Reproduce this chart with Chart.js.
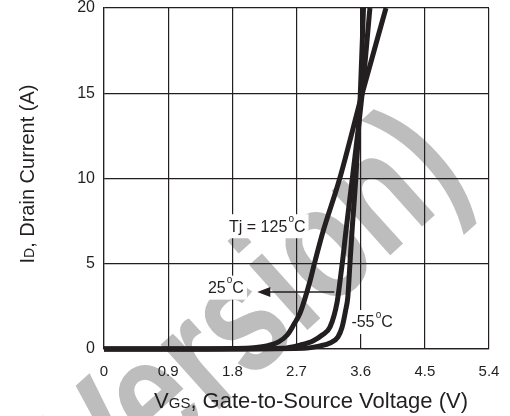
<!DOCTYPE html>
<html>
<head>
<meta charset="utf-8">
<script src="https://cdn.jsdelivr.net/npm/chart.js@4.4.1/dist/chart.umd.min.js"></script>
<style>
  html, body { margin: 0; padding: 0; background: #fff; }
  #wrap { width: 510px; height: 416px; }
</style>
</head>
<body>
<div id="wrap"><canvas id="grafico"></canvas></div>
<script>
  // eixos
  const xTicks = [0, 0.9, 1.8, 2.7, 3.6, 4.5, 5.4];
  const xTickLabels = ['0', '0.9', '1.8', '2.7', '3.6', '4.5', '5.4'];
  const yTicks = [0, 5, 10, 15, 20];
  const yTickLabels = ['0', '5', '10', '15', '20'];

  // curvas Id x Vgs
  const vgs125 = [0, 1.0, 1.8, 2.1, 2.3, 2.45, 2.57, 2.66, 2.75, 2.89, 2.95, 3.07, 3.30, 3.62, 3.955];
  const id125  = [0, 0, 0.03, 0.08, 0.2, 0.42, 0.82, 1.42, 2.11, 3.99, 4.99, 6.86, 9.91, 14.96, 20];

  const vgs25 = [0, 1.5, 2.5, 2.75, 2.93, 3.06, 3.17, 3.27, 3.32, 3.35, 3.39, 3.48, 3.62, 3.73];
  const id25  = [0, 0, 0.04, 0.23, 0.47, 0.82, 1.29, 2.76, 4.3, 5.3, 6.8, 9.9, 14.96, 20];

  const vgs55 = [0, 1.5, 2.8, 3.03, 3.17, 3.28, 3.34, 3.39, 3.42, 3.45, 3.48, 3.53, 3.595, 3.64];
  const id55  = [0, 0, 0.04, 0.18, 0.35, 0.70, 1.29, 2.29, 3.05, 5.04, 6.98, 9.91, 14.96, 20];

  // anotacoes (posicao em V, A)
  const rotulos = [
    { partes: ['Tj = 125', 'o', 'C'], v: 2.29, a: 7.2 },
    { partes: ['25', 'o', 'C'], v: 1.71, a: 3.6 },
    { partes: ['-55', 'o', 'C'], v: 3.76, a: 1.58 }
  ];
  const seta = { vIni: 3.23, vFim: 2.15, a: 3.34 };

  const preto = '#231f20';
  const fonte = '"Liberation Sans", Arial, sans-serif';

  function pontos(xs, ys) {
    return xs.map((x, i) => ({ x: x, y: ys[i] }));
  }

  function serie(label, xs, ys) {
    return {
      label: label,
      data: pontos(xs, ys),
      borderColor: preto,
      borderWidth: 5,
      pointRadius: 0,
      cubicInterpolationMode: 'monotone',
      clip: { left: 4, top: 0, right: 0, bottom: 4 }
    };
  }

  // texto com partes de tamanhos diferentes (subscrito / grau)
  function medir(ctx, partes) {
    let w = 0;
    partes.forEach(p => {
      ctx.font = p.size + 'px ' + fonte;
      w += ctx.measureText(p.t).width;
    });
    return w;
  }

  function escrever(ctx, partes, x, y) {
    let cx = x;
    partes.forEach(p => {
      ctx.font = p.size + 'px ' + fonte;
      ctx.fillText(p.t, cx, y + (p.dy || 0));
      cx += ctx.measureText(p.t).width;
    });
  }

  const plugin = {
    id: 'extras',
    beforeDraw(chart) {
      const ctx = chart.ctx;
      const area = chart.chartArea;
      ctx.save();
      ctx.fillStyle = '#fff';
      ctx.fillRect(0, 0, chart.width, chart.height);
      // marca d'agua
      ctx.translate(area.left + area.width * 0.955, area.top + area.height * 0.51);
      ctx.rotate(-42 * Math.PI / 180);
      ctx.scale(0.76, 1);
      ctx.font = 'bold 165px ' + fonte;
      ctx.fillStyle = '#bdbdbd';
      ctx.textAlign = 'right';
      ctx.textBaseline = 'alphabetic';
      ctx.fillText('Version)', 0, 0);
      ctx.restore();
    },
    afterDatasetsDraw(chart) {
      const ctx = chart.ctx;
      const xs = chart.scales.x;
      const ys = chart.scales.y;
      ctx.save();
      ctx.textBaseline = 'middle';

      rotulos.forEach(r => {
        const partes = [
          { t: r.partes[0], size: 16 },
          { t: ' ', size: 4 },
          { t: r.partes[1], size: 10, dy: -8 },
          { t: r.partes[2], size: 16 }
        ];
        const w = medir(ctx, partes);
        const cx = xs.getPixelForValue(r.v);
        const cy = ys.getPixelForValue(r.a);
        ctx.fillStyle = '#fff';
        ctx.fillRect(cx - w / 2 - 3, cy - 12, w + 6, 24);
        ctx.fillStyle = preto;
        escrever(ctx, partes, cx - w / 2, cy + 1);
      });

      // seta do 25C
      const x1 = xs.getPixelForValue(seta.vIni);
      const x2 = xs.getPixelForValue(seta.vFim);
      const y = ys.getPixelForValue(seta.a);
      ctx.strokeStyle = preto;
      ctx.lineWidth = 1.5;
      ctx.beginPath();
      ctx.moveTo(x1, y);
      ctx.lineTo(x2 + 10, y);
      ctx.stroke();
      ctx.fillStyle = preto;
      ctx.beginPath();
      ctx.moveTo(x2, y);
      ctx.lineTo(x2 + 13, y - 5);
      ctx.lineTo(x2 + 13, y + 5);
      ctx.closePath();
      ctx.fill();
      ctx.restore();
    },
    afterDraw(chart) {
      const ctx = chart.ctx;
      const area = chart.chartArea;
      ctx.save();
      ctx.fillStyle = preto;
      ctx.textBaseline = 'alphabetic';

      // titulo eixo x
      const px = [
        { t: 'V', size: 22 },
        { t: 'GS', size: 15 },
        { t: ', Gate-to-Source Voltage (V)', size: 22 }
      ];
      const wx = medir(ctx, px);
      escrever(ctx, px, 311 - wx / 2, 408);

      // titulo eixo y
      const py = [
        { t: 'I', size: 20 },
        { t: 'D', size: 14 },
        { t: ', Drain Current (A)', size: 20 }
      ];
      const wy = medir(ctx, py);
      ctx.translate(34, area.top + 166);
      ctx.rotate(-Math.PI / 2);
      escrever(ctx, py, -wy / 2, 0);
      ctx.restore();
    }
  };

  document.addEventListener('DOMContentLoaded', () => {
    const ctx = document.getElementById('grafico').getContext('2d');

    new Chart(ctx, {
      type: 'line',
      data: {
        datasets: [
          serie('-55C', vgs55, id55),
          serie('25C', vgs25, id25),
          serie('125C', vgs125, id125)
        ]
      },
      options: {
        responsive: true,
        maintainAspectRatio: false,
        animation: false,
        layout: { padding: { top: 8, right: 21, left: 0, bottom: 0 } },
        plugins: {
          legend: { display: false },
          tooltip: { enabled: false }
        },
        scales: {
          x: {
            type: 'linear',
            min: 0,
            max: 5.4,
            afterBuildTicks: scale => { scale.ticks = xTicks.map(v => ({ value: v })); },
            afterFit: scale => {
              scale.height = 67;
              scale.paddingLeft = 0;
              scale.paddingRight = 0;
            },
            ticks: {
              autoSkip: false,
              maxRotation: 0,
              padding: 14,
              color: preto,
              font: { family: fonte, size: 15 },
              callback: (v, i) => xTickLabels[i]
            },
            grid: { color: preto, lineWidth: 1.2, drawTicks: false },
            border: { color: preto, width: 1.2 }
          },
          y: {
            type: 'linear',
            min: 0,
            max: 20,
            afterBuildTicks: scale => { scale.ticks = yTicks.map(v => ({ value: v })); },
            afterFit: scale => {
              scale.width = 104;
              scale.paddingTop = 0;
              scale.paddingBottom = 0;
            },
            ticks: {
              padding: 9,
              color: preto,
              font: { family: fonte, size: 16 },
              callback: (v, i) => yTickLabels[i]
            },
            grid: { color: preto, lineWidth: 1.2, drawTicks: false },
            border: { color: preto, width: 1.2 }
          }
        }
      },
      plugins: [plugin]
    });
  });
</script>
</body>
</html>
